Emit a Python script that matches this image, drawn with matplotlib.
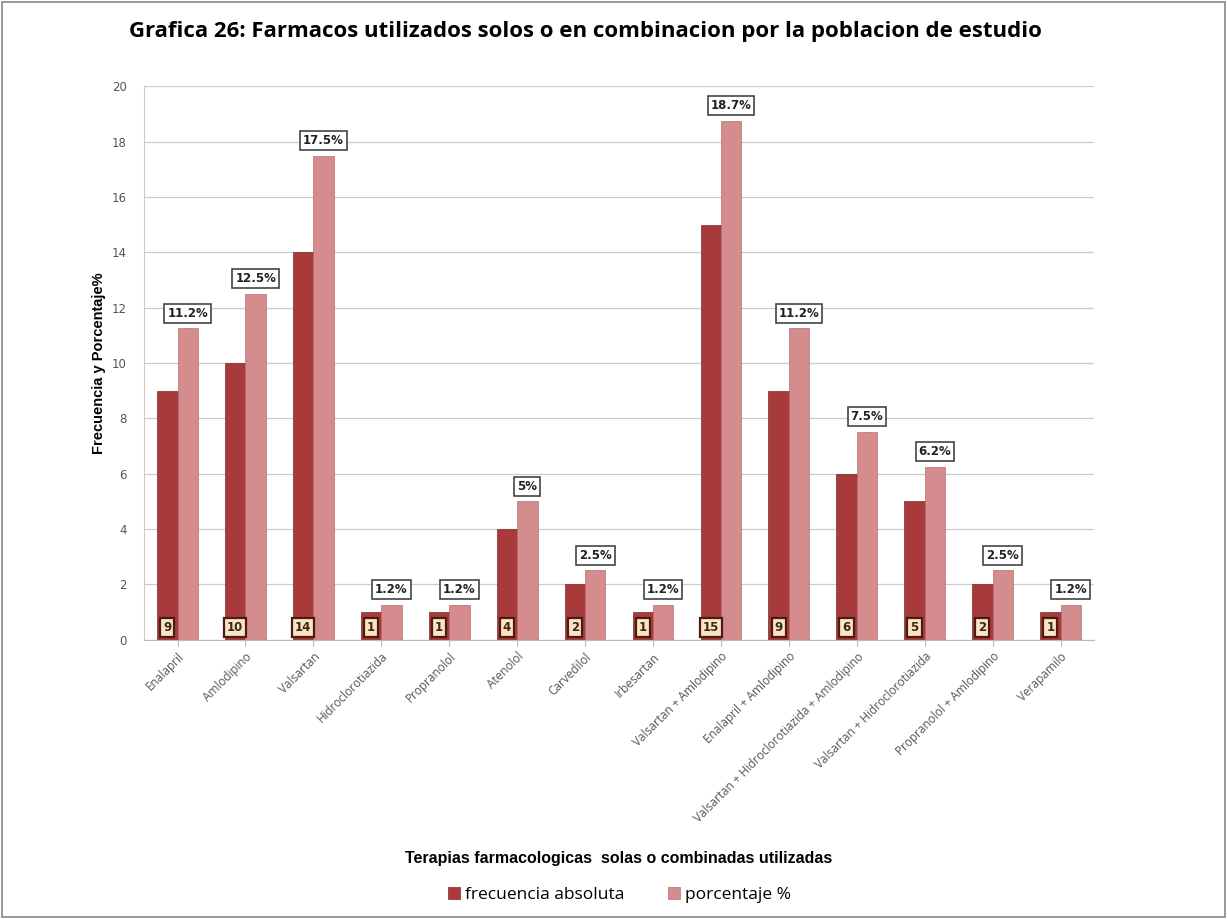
import numpy as np
import matplotlib.pyplot as plt

terapias = ["Enalapril", "Amlodipino", "Valsartan", "Hidroclorotiazida", "Propranolol",
            "Atenolol", "Carvedilol", "Irbesartan", "Valsartan + Amlodipino",
            "Enalapril + Amlodipino", "Valsartan + Hidroclorotiazida + Amlodipino",
            "Valsartan + Hidroclorotiazida", "Propranolol + Amlodipino", "Verapamilo"]
frecuencia = [9, 10, 14, 1, 1, 4, 2, 1, 15, 9, 6, 5, 2, 1]
porcentaje = [11.25, 12.5, 17.5, 1.25, 1.25, 5, 2.5, 1.25, 18.75, 11.25, 7.5, 6.25, 2.5, 1.25]
etiquetas_pct = ["11.2%", "12.5%", "17.5%", "1.2%", "1.2%", "5%", "2.5%", "1.2%",
                 "18.7%", "11.2%", "7.5%", "6.2%", "2.5%", "1.2%"]

oscuro = "#A93A3C"
claro = "#D48C8E"

fig = plt.figure(figsize=(12.27, 9.19), dpi=100)
ax = fig.add_axes([0.117, 0.304, 0.775, 0.602])

x = np.arange(len(terapias))
w = 0.3
b1 = ax.bar(x - w / 2, frecuencia, w, color=oscuro, edgecolor="#7a2a2a", linewidth=0.5,
            label="frecuencia absoluta", zorder=3)
b2 = ax.bar(x + w / 2, porcentaje, w, color=claro, edgecolor="#b07070", linewidth=0.5,
            label="porcentaje %", zorder=3)

for xi, f in zip(x, frecuencia):
    ax.text(xi - w / 2, 0.45, str(f), ha="center", va="center", fontsize=8.5,
            fontweight="bold", color="#3a2a10", zorder=5,
            bbox=dict(boxstyle="square,pad=0.25", fc="#FBE3C6", ec="#4a1c14", lw=1.6))

for xi, p, t in zip(x, porcentaje, etiquetas_pct):
    ax.text(xi + w / 2, p + 0.55, t, ha="center", va="center", fontsize=8.5,
            fontweight="bold", color="#222222", zorder=5,
            bbox=dict(boxstyle="square,pad=0.25", fc="white", ec="#444444", lw=1.2))

ax.set_xlim(-0.5, len(terapias) - 0.5)
ax.set_ylim(0, 20)
ax.set_yticks(range(0, 21, 2))
ax.yaxis.grid(True, color="#cccccc", linewidth=0.9, zorder=0)
ax.set_axisbelow(True)
for s in ["top", "right"]:
    ax.spines[s].set_visible(False)
ax.spines["left"].set_color("#d8c8cc")
ax.spines["bottom"].set_color("#bbbbbb")
ax.tick_params(axis="y", length=0, labelsize=8.5, labelcolor="#555555", pad=12)
ax.tick_params(axis="x", length=4, color="#bbbbbb", labelsize=8.5, labelcolor="#555555")
ax.set_xticks(x)
ax.set_xticklabels(terapias, rotation=45, ha="right", rotation_mode="anchor",
                   family="Open Sans")

ax.set_ylabel("Frecuencia y Porcentaje%", fontsize=10.5, fontweight="bold", labelpad=4,
              family="Liberation Sans")
fig.text(0.504, 0.066, "Terapias farmacologicas  solas o combinadas utilizadas",
         ha="center", va="center", fontsize=11.5, fontweight="bold", family="Liberation Sans")
fig.text(0.477, 0.966, "Grafica 26: Farmacos utilizados solos o en combinacion por la poblacion de estudio",
         ha="center", va="center", fontsize=16, fontweight="bold", family="Open Sans")

fig.legend(handles=[b1, b2], loc="center", bbox_to_anchor=(0.505, 0.026), ncol=2,
           frameon=False, handlelength=0.7, handleheight=0.7,
           handletextpad=0.3, columnspacing=2.5, prop={"family": "Open Sans", "size": 12.5})

fig.patches.append(plt.Rectangle((0.002, 0.002), 0.996, 0.996, transform=fig.transFigure,
                                 fill=False, ec="#888888", lw=1.2))

fig.savefig("out.png", dpi=100)
